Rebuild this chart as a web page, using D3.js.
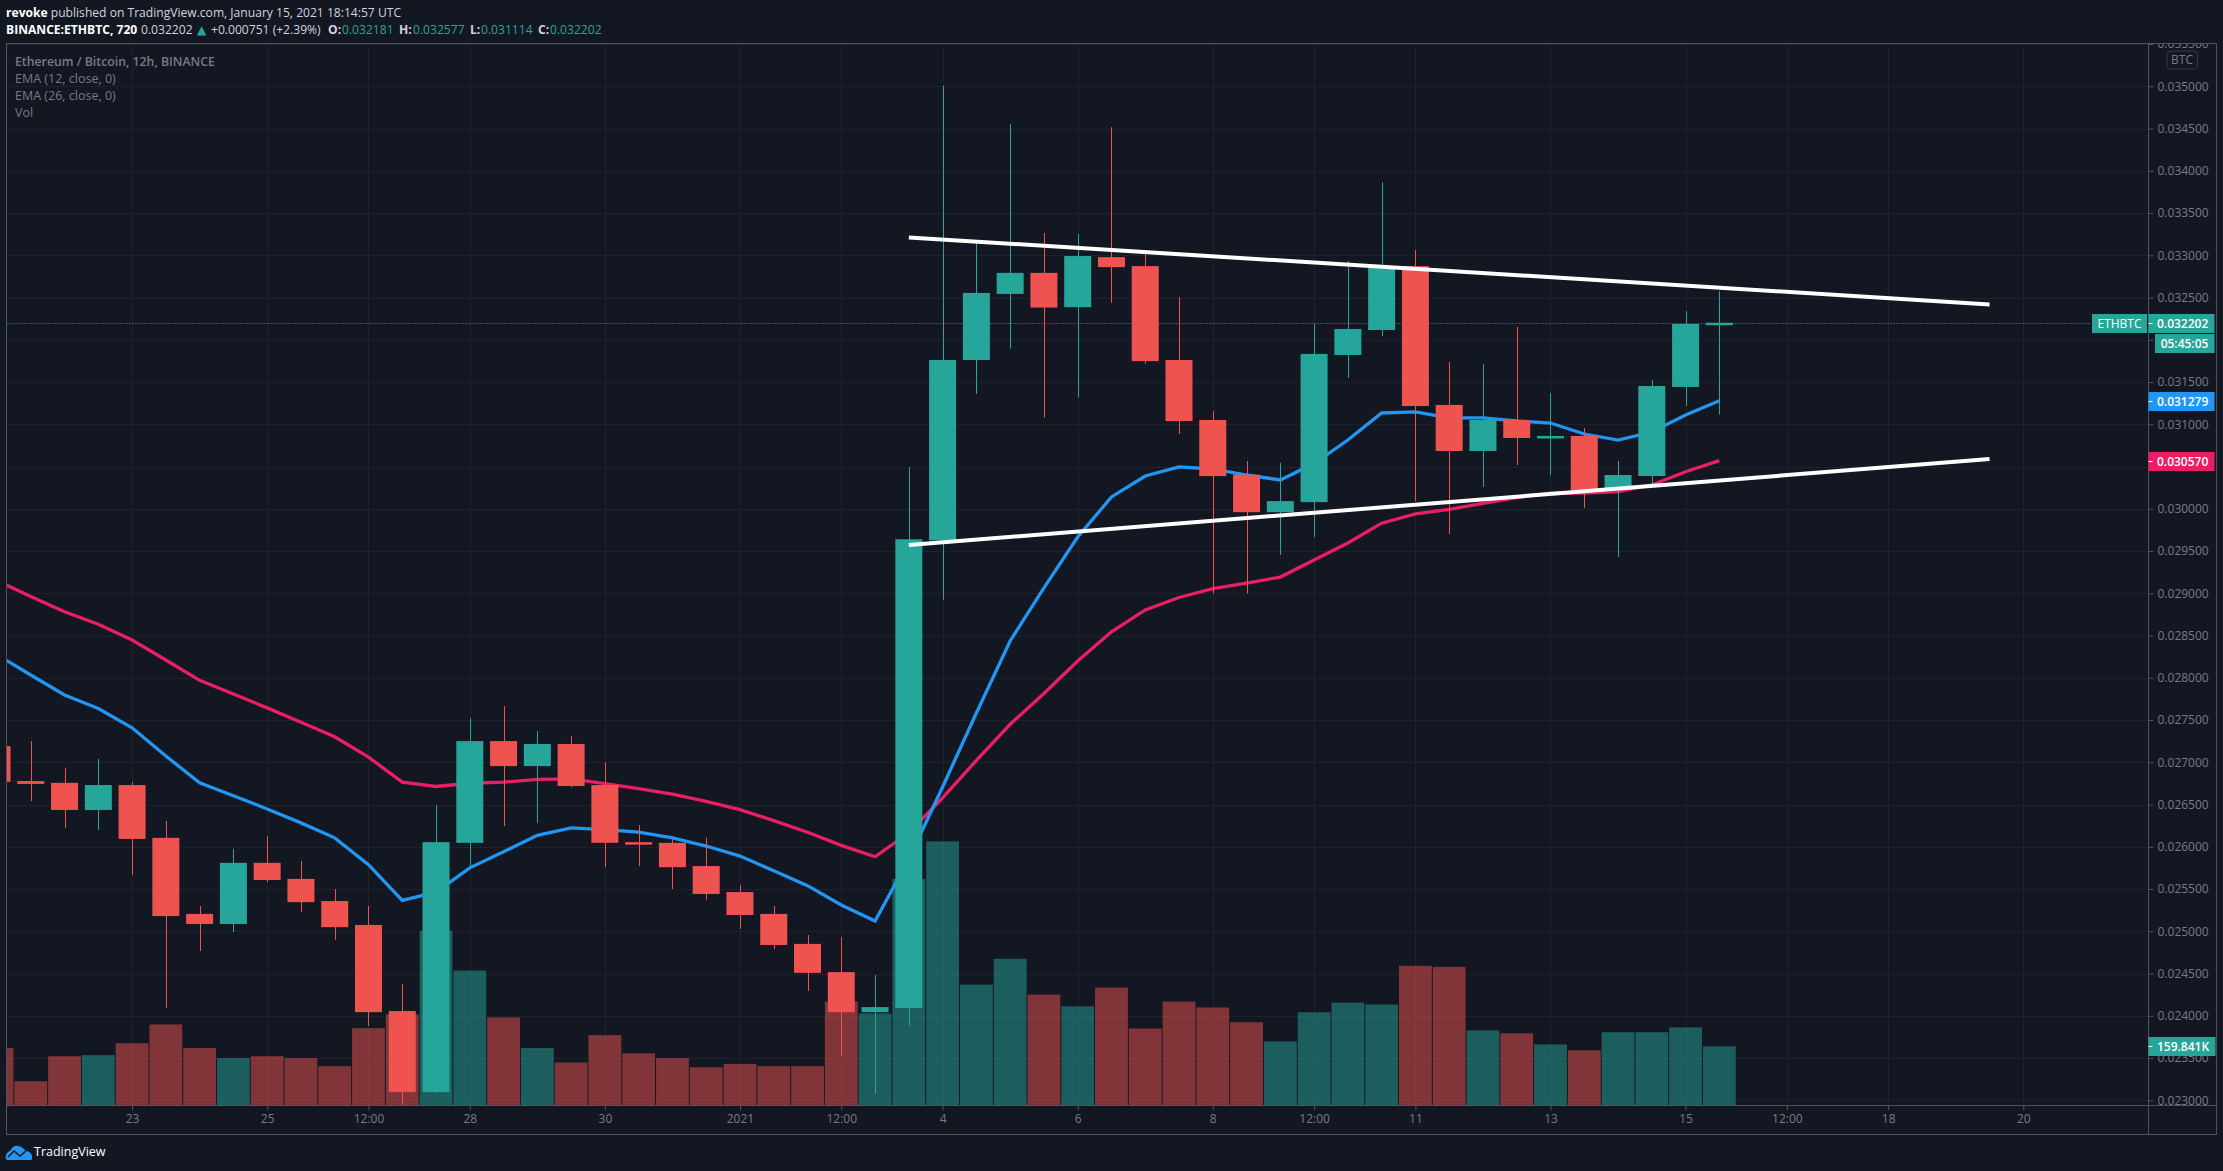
<!DOCTYPE html>
<html>
<head>
<meta charset="utf-8">
<script src="https://cdn.jsdelivr.net/npm/d3@7"></script>
<style>
  html, body { margin: 0; padding: 0; background: #131722; }
  svg { display: block; }
  text { font-family: "Open Sans", "Noto Sans", sans-serif; }
</style>
</head>
<body>
<div id="chart"></div>
<script>
// OHLC, in millionths of a BTC. Bar 0 is cut by the left edge.
var opens = [27192,26778,26757,26436,26731,26106,25206,25087,25810,25620,25358,25075,24056,23097,26047,27251,26955,27217,26731,26055,26047,25772,25464,25206,24851,24517,24043,24093,29626,31761,32543,32792,32386,32978,32872,31761,31051,30404,29960,30079,31820,32116,32872,31229,30684,31051,30838,30862,30223,30388,31442,32181];
var highs = [27192,27251,26934,27040,26765,26305,25299,25975,26127,25831,25501,25299,24377,26495,27526,27665,27370,27310,27002,26258,26089,26106,25548,25299,24956,24931,24483,30493,35007,33155,34554,33265,33253,34516,33016,32505,31156,30565,30544,32196,32932,33866,33063,31737,31714,32152,31371,30956,30566,31524,32341,32577];
var lows = [26769,26541,26224,26199,25666,24094,24766,24990,25582,25227,24901,23879,22949,23088,25759,26245,26283,26702,25759,25772,25501,25375,25028,24791,24293,23524,23076,23883,28921,31359,31896,31080,31317,32437,31714,30886,28997,28997,29453,29665,31549,32044,30091,29702,30258,30519,30400,30010,29430,30282,31217,31114];
var closes = [26769,26744,26436,26731,26093,25180,25087,25810,25607,25345,25049,24043,23097,26055,27251,26955,27217,26719,26047,26034,25759,25442,25193,24838,24508,24043,24103,29639,31761,32555,32792,32382,32991,32860,31748,31038,30387,29960,30091,31833,32128,32851,31216,30684,31051,30838,30862,30223,30400,31453,32187,32202];
var volumes = [155,65,133,136,168,219,155,128,133,128,106,209,246,473,365,238,155,116,190,141,128,103,112,106,106,281,249,613,715,327,397,300,268,319,208,281,265,225,173,252,278,273,378,375,203,195,165,149,198,198,211,159.841];
var ema12 = [28274,28033,27796,27636,27408,27074,26757,26605,26448,26283,26106,25789,25366,25463,25751,25941,26136,26224,26203,26173,26106,26009,25890,25717,25540,25311,25121,25856,26708,27584,28436,29063,29666,30140,30388,30495,30471,30400,30341,30535,30814,31134,31146,31075,31075,31039,31015,30885,30814,30909,31110,31279];
var ema26 = [29149,28963,28781,28633,28447,28211,27970,27809,27644,27475,27302,27061,26765,26714,26752,26765,26799,26803,26748,26689,26622,26537,26440,26309,26173,26017,25882,26165,26580,27023,27450,27815,28199,28544,28803,28950,29056,29120,29192,29394,29596,29830,29940,29994,30065,30132,30184,30187,30203,30282,30439,30570];

// hand drawn trend lines: [bar, price]
var upperTrend = [[27, 33211], [59, 32418]];
var lowerTrend = [[27, 29572], [59, 30589]];

var priceTicks = [23000,23500,24000,24500,25000,25500,26000,26500,27000,27500,28000,28500,29000,29500,30000,30500,31000,31500,32000,32500,33000,33500,34000,34500,35000,35500];
var timeTickBars = [4,8,11,14,18,22,25,28,32,36,39,42,46,50,53,56,60];
var timeTickLabels = ["23","25","12:00","28","30","2021","12:00","4","6","8","12:00","11","13","15","12:00","18","20"];

var lastClose = 32202;
var lastEma12 = 31279;
var lastEma26 = 30570;
var lastVolume = 159.841;

var svgWidth = 2223;
var svgHeight = 1171;
var plot = { left: 6.5, top: 43.5, right: 2148.5, bottom: 1105.5, outerRight: 2216.5, outerBottom: 1134.5 };

var red = "#ef5350", green = "#26a69a", blue = "#2196f3", pink = "#e91e63";
var gridColor = "#1e222d", borderColor = "#50535e", tickText = "#787b86";

var svg = d3.select("#chart").append("svg")
  .attr("width", svgWidth)
  .attr("height", svgHeight);

svg.append("rect").attr("width", svgWidth).attr("height", svgHeight).attr("fill", "#131722");

var defs = svg.append("defs");
defs.append("clipPath").attr("id", "plotClip").append("rect")
  .attr("x", plot.left).attr("y", plot.top)
  .attr("width", plot.right - plot.left).attr("height", plot.bottom - plot.top);
defs.append("clipPath").attr("id", "scaleClip").append("rect")
  .attr("x", 0).attr("y", plot.top)
  .attr("width", plot.outerRight - plot.right).attr("height", plot.bottom - plot.top);

// scales: one bar is 12 hours
var xScale = d3.scaleLinear().domain([0, 60]).range([-3, 2023.3]);
var yScale = d3.scaleLinear().domain([23000, 35000]).range([1100.3, 86.3]);
var volScale = d3.scaleLinear().domain([0, 159.841]).range([1105.3, 1046.3]);

var bars = d3.range(opens.length);
var bodyWidth = 27;
var volWidth = 32.8;

var plotGroup = svg.append("g").attr("clip-path", "url(#plotClip)");

// grid
plotGroup.selectAll(".hgrid").data(priceTicks).enter().append("line")
  .attr("x1", plot.left).attr("x2", plot.right)
  .attr("y1", d => Math.round(yScale(d)) + 0.5).attr("y2", d => Math.round(yScale(d)) + 0.5)
  .attr("stroke", gridColor);
plotGroup.selectAll(".vgrid").data(timeTickBars).enter().append("line")
  .attr("y1", plot.top).attr("y2", plot.bottom)
  .attr("x1", d => Math.round(xScale(d)) + 0.5).attr("x2", d => Math.round(xScale(d)) + 0.5)
  .attr("stroke", gridColor);

// volume columns
plotGroup.selectAll(".vol").data(bars).enter().append("rect")
  .attr("x", i => xScale(i) - volWidth / 2)
  .attr("width", volWidth)
  .attr("y", i => volScale(volumes[i]))
  .attr("height", i => volScale(0) - volScale(volumes[i]))
  .attr("fill", i => closes[i] >= opens[i] ? green : red)
  .attr("opacity", 0.5);

// last price dotted line
plotGroup.append("line")
  .attr("x1", plot.left).attr("x2", 2090)
  .attr("y1", Math.round(yScale(lastClose)) + 0.5).attr("y2", Math.round(yScale(lastClose)) + 0.5)
  .attr("stroke", green).attr("stroke-dasharray", "1 2");

// EMA lines go under the candles
var emaLine = d3.line().x((d, i) => xScale(i)).y(d => yScale(d));
plotGroup.append("path").attr("d", emaLine(ema26))
  .attr("fill", "none").attr("stroke", pink).attr("stroke-width", 3.3);
plotGroup.append("path").attr("d", emaLine(ema12))
  .attr("fill", "none").attr("stroke", blue).attr("stroke-width", 3.3);

// candles
plotGroup.selectAll(".wick").data(bars).enter().append("line")
  .attr("x1", i => Math.round(xScale(i)) + 0.5).attr("x2", i => Math.round(xScale(i)) + 0.5)
  .attr("y1", i => yScale(highs[i])).attr("y2", i => yScale(lows[i]))
  .attr("stroke", i => closes[i] >= opens[i] ? green : red);
plotGroup.selectAll(".body").data(bars).enter().append("rect")
  .attr("x", i => xScale(i) - bodyWidth / 2)
  .attr("width", bodyWidth)
  .attr("y", i => yScale(Math.max(opens[i], closes[i])))
  .attr("height", i => Math.max(2.5, Math.abs(yScale(opens[i]) - yScale(closes[i]))))
  .attr("fill", i => closes[i] >= opens[i] ? green : red);

// trend lines
var trendLine = d3.line().x(d => xScale(d[0])).y(d => yScale(d[1]));
[upperTrend, lowerTrend].forEach(function(t) {
  plotGroup.append("path").attr("d", trendLine(t))
    .attr("fill", "none").attr("stroke", "#ffffff").attr("stroke-width", 4);
});

// price axis
var priceAxis = svg.append("g")
  .attr("transform", `translate(${plot.right}, 0)`)
  .attr("clip-path", "url(#scaleClip)")
  .call(d3.axisRight(yScale).tickValues(priceTicks).tickSize(5).tickPadding(4)
    .tickFormat(d => d3.format(".6f")(d / 1e6)));
priceAxis.select(".domain").remove();
priceAxis.selectAll("line").attr("stroke", borderColor);
priceAxis.selectAll("text").attr("fill", tickText).style("font-size", "12px");

// time axis
var timeAxis = svg.append("g")
  .attr("transform", `translate(0, ${plot.bottom})`)
  .call(d3.axisBottom(xScale).tickValues(timeTickBars).tickSize(5).tickPadding(4)
    .tickFormat((d, i) => timeTickLabels[i]));
timeAxis.select(".domain").remove();
timeAxis.selectAll("line").attr("stroke", borderColor);
timeAxis.selectAll("text").attr("fill", tickText).style("font-size", "12px");

// frame
svg.append("rect")
  .attr("x", plot.left).attr("y", plot.top)
  .attr("width", plot.outerRight - plot.left).attr("height", plot.outerBottom - plot.top)
  .attr("fill", "none").attr("stroke", borderColor);
svg.append("line").attr("x1", plot.right).attr("x2", plot.right)
  .attr("y1", plot.top).attr("y2", plot.outerBottom).attr("stroke", borderColor);
svg.append("line").attr("x1", plot.left).attr("x2", plot.outerRight)
  .attr("y1", plot.bottom).attr("y2", plot.bottom).attr("stroke", borderColor);

// BTC unit box
svg.append("rect").attr("x", 2167).attr("y", 51).attr("width", 30.5).attr("height", 18).attr("rx", 4)
  .attr("fill", "#131722").attr("stroke", "#363a45");
svg.append("text").attr("x", 2182).attr("y", 64).attr("text-anchor", "middle")
  .attr("fill", tickText).style("font-size", "12px").text("BTC");

// price tags on the right
function priceTag(value, color, label, w) {
  var yPos = Math.round(value) + 0.5;
  svg.append("rect").attr("x", plot.right).attr("y", yPos - 9.5)
    .attr("width", w).attr("height", 19).attr("fill", color);
  svg.append("line").attr("x1", plot.right).attr("x2", plot.right + 4)
    .attr("y1", yPos).attr("y2", yPos).attr("stroke", "#ffffff");
  svg.append("text").attr("x", 2157).attr("y", yPos + 4.5)
    .attr("fill", "#ffffff").style("font-size", "12px").style("font-weight", 600).text(label);
}
priceTag(yScale(lastClose), green, d3.format(".6f")(lastClose / 1e6), 66);
priceTag(yScale(lastEma12), blue, d3.format(".6f")(lastEma12 / 1e6), 66);
priceTag(yScale(lastEma26), pink, d3.format(".6f")(lastEma26 / 1e6), 66);
priceTag(volScale(lastVolume), green, lastVolume + "K", 67);

var closeY = Math.round(yScale(lastClose)) + 0.5;
svg.append("rect").attr("x", 2155).attr("y", closeY + 10.5).attr("width", 59.5).attr("height", 19).attr("fill", green);
svg.append("text").attr("x", 2184.5).attr("y", closeY + 24.5).attr("text-anchor", "middle")
  .attr("fill", "#ffffff").style("font-size", "12px").style("font-weight", 600).text("05:45:05");
svg.append("rect").attr("x", 2092).attr("y", closeY - 9.5).attr("width", 55).attr("height", 19).attr("fill", green);
svg.append("text").attr("x", 2119.5).attr("y", closeY + 4.5).attr("text-anchor", "middle")
  .attr("fill", "#ffffff").style("font-size", "12px").text("ETHBTC");

// legend inside the plot
var legendRows = ["Ethereum / Bitcoin, 12h, BINANCE", "EMA (12, close, 0)", "EMA (26, close, 0)", "Vol"];
svg.selectAll(".legendRow").data(legendRows).enter().append("text")
  .attr("x", 15)
  .attr("y", (d, i) => 65.5 + i * 17)
  .attr("fill", tickText)
  .style("font-size", (d, i) => i == 0 ? "12.3px" : "12.5px")
  .style("font-weight", (d, i) => i == 0 ? 600 : 400)
  .text(d => d);

// header
var headText = "#d1d4dc";
var line1 = svg.append("text").attr("x", 6).attr("y", 17).attr("fill", headText).style("font-size", "12.1px");
line1.append("tspan").style("font-weight", 700).attr("fill", "#ffffff").text("revoke");
line1.append("tspan").text(" published on TradingView.com, January 15, 2021 18:14:57 UTC");

var headRow = [
  { x: 6, t: "BINANCE:ETHBTC, 720", w: 700, c: "#ffffff" },
  { x: 141, t: "0.032202", w: 400, c: headText },
  { x: 197, t: "\u25B2", w: 400, c: green },
  { x: 211, t: "+0.000751 (+2.39%)", w: 400, c: headText },
  { x: 328, t: "O:", w: 700, c: headText },
  { x: 342, t: "0.032181", w: 400, c: green },
  { x: 399, t: "H:", w: 700, c: headText },
  { x: 413, t: "0.032577", w: 400, c: green },
  { x: 470, t: "L:", w: 700, c: headText },
  { x: 481, t: "0.031114", w: 400, c: green },
  { x: 538, t: "C:", w: 700, c: headText },
  { x: 550, t: "0.032202", w: 400, c: green }
];
svg.selectAll(".headRow").data(headRow).enter().append("text")
  .attr("x", d => d.x).attr("y", 34)
  .attr("fill", d => d.c)
  .style("font-size", "12.1px")
  .style("font-family", d => d.t == "\u25B2" ? "'DejaVu Sans'" : null)
  .style("font-weight", d => d.w)
  .text(d => d.t);

// TradingView mark
svg.append("path")
  .attr("d", "M6 1159 C5 1155 7 1152 10 1151 C12 1147 15 1145 18 1146 C21 1146 24 1149 26 1151 C30 1151 33 1155 32 1159 L31 1160 L7 1160 Z")
  .attr("fill", blue);
svg.append("path")
  .attr("d", "M8 1157 L14 1151 L20 1156 L26 1151")
  .attr("fill", "none").attr("stroke", "#131722").attr("stroke-width", 1.6);
svg.append("text").attr("x", 34).attr("y", 1156).attr("fill", "#ffffff").style("font-size", "12.5px").text("TradingView");
</script>
</body>
</html>
